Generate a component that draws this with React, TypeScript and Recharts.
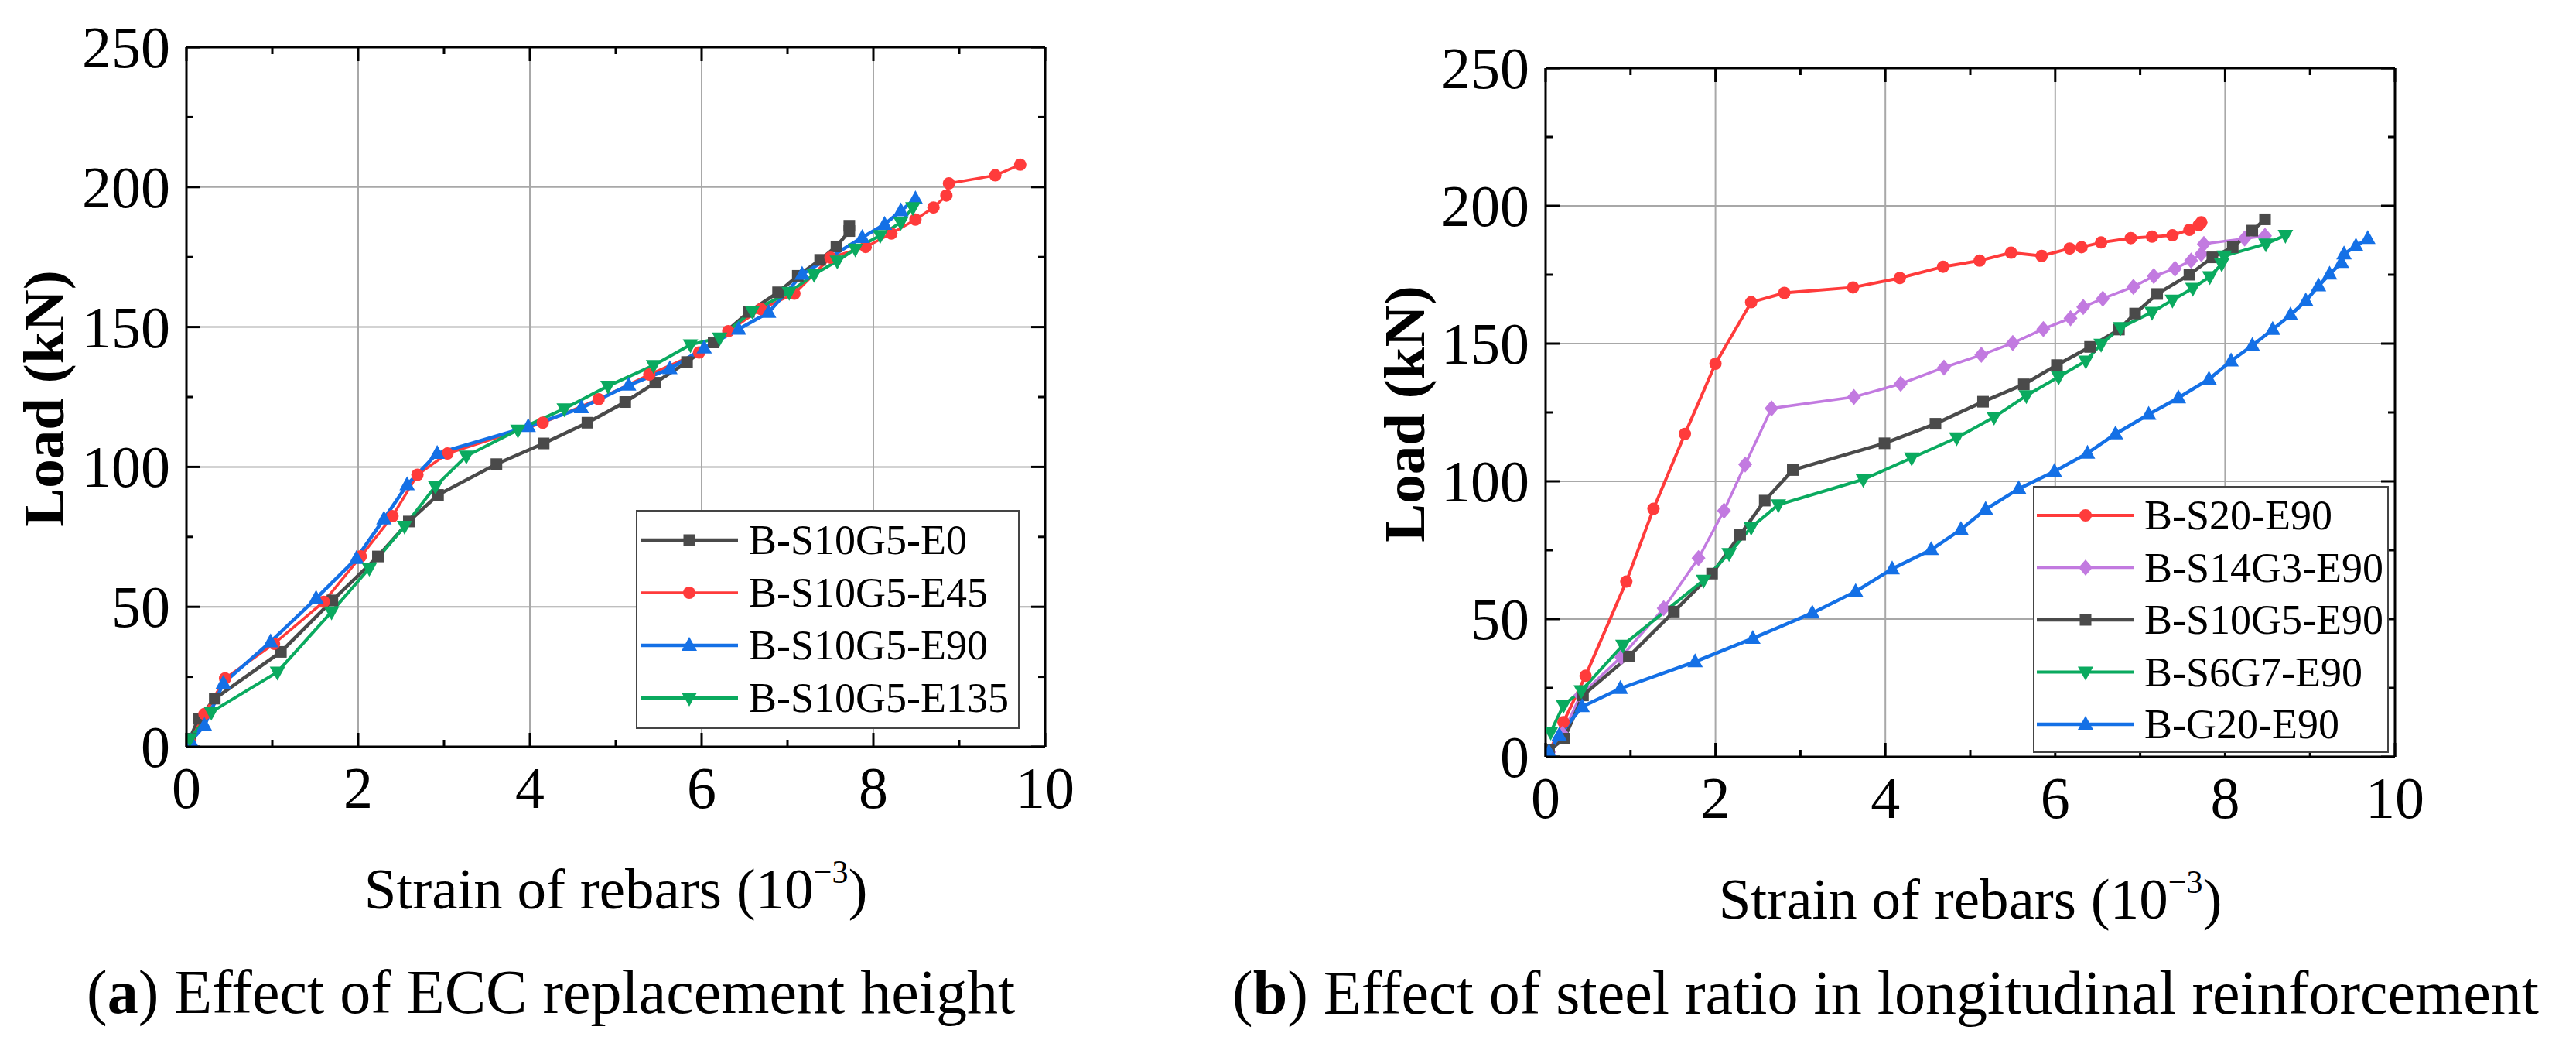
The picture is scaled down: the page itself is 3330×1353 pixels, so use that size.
import React from "react";
import { LineChart, Line, XAxis, YAxis, CartesianGrid, Legend } from "recharts";

const FONT = '"Liberation Serif", "Times New Roman", serif';

// axis ticks (minor + major)
const strainTicks = [0, 1, 2, 3, 4, 5, 6, 7, 8, 9, 10];
const loadTicks = [0, 25, 50, 75, 100, 125, 150, 175, 200, 225, 250];
const strainLabels = [0, 2, 4, 6, 8, 10];
const loadLabels = [0, 50, 100, 150, 200, 250];
const gridStrain = [2, 4, 6, 8];
const gridLoad = [50, 100, 150, 200];

// (a) Effect of ECC replacement height
const e0Strain = [0.04, 0.14, 0.33, 1.1, 1.7, 2.23, 2.59, 2.93, 3.61, 4.16, 4.67, 5.11, 5.46, 5.83, 6.14, 6.55, 6.89, 7.12, 7.38, 7.57, 7.72, 7.72];
const e0Load = [2.9, 10, 17.2, 33.9, 52.3, 68, 80.5, 90, 101, 108.4, 115.8, 123.2, 130.1, 137.5, 144.5, 155.4, 162.4, 168.3, 174, 178.8, 184.3, 186.2];

const e45Strain = [0.04, 0.21, 0.45, 1.02, 1.6, 2.03, 2.4, 2.69, 3.04, 4.15, 4.8, 5.39, 5.97, 6.31, 6.69, 7.08, 7.5, 7.91, 8.21, 8.49, 8.7, 8.85, 8.88, 9.42, 9.71];
const e45Load = [1.7, 11.7, 24.4, 36.8, 51.8, 68, 82.4, 97.2, 104.8, 115.8, 124.2, 133, 140.9, 148.5, 156.4, 161.9, 174.8, 178.6, 183.4, 188.4, 192.7, 197, 201.3, 204.2, 208];

const e90Strain = [0.05, 0.21, 0.43, 0.98, 1.51, 1.98, 2.3, 2.57, 2.92, 3.98, 4.6, 5.15, 5.63, 6.03, 6.43, 6.78, 7.17, 7.87, 8.13, 8.32, 8.49];
const e90Load = [2, 7.6, 22.7, 37.5, 53, 67.3, 81.4, 93.6, 104.8, 114.4, 121.1, 129.2, 135.1, 142.5, 149.2, 155.2, 168.8, 182, 186.7, 191.5, 195.8];

const e135Strain = [0.04, 0.29, 1.06, 1.69, 2.13, 2.54, 2.9, 3.26, 3.86, 4.4, 4.91, 5.44, 5.87, 6.21, 6.59, 7.02, 7.31, 7.58, 7.79, 8.08, 8.32, 8.46];
const e135Load = [2.9, 12.4, 26.7, 48.2, 63.8, 78.8, 93.1, 103.9, 113.2, 120.8, 128.9, 136.3, 143.7, 146.1, 155.7, 162.4, 168.8, 173.6, 177.9, 182.7, 187.4, 192.7];

// (b) Effect of steel ratio in longitudinal reinforcement
const s20Strain = [0.04, 0.21, 0.47, 0.95, 1.27, 1.64, 2.0, 2.42, 2.81, 3.62, 4.17, 4.68, 5.11, 5.48, 5.84, 6.17, 6.31, 6.54, 6.89, 7.14, 7.38, 7.58, 7.69, 7.72];
const s20Load = [1.7, 12.6, 29.4, 63.6, 90, 117.2, 142.7, 165, 168.4, 170.4, 173.8, 177.9, 180.1, 183, 181.8, 184.5, 185, 186.7, 188.3, 188.8, 189.3, 191.3, 193, 194];

const s14Strain = [0.04, 0.2, 0.41, 0.89, 1.39, 1.8, 2.1, 2.35, 2.66, 3.63, 4.18, 4.69, 5.13, 5.5, 5.86, 6.18, 6.33, 6.56, 6.92, 7.16, 7.41, 7.6, 7.72, 7.75, 8.23, 8.47];
const s14Load = [1.7, 8.3, 22.3, 36.2, 53.9, 72.1, 89.3, 106.1, 126.5, 130.6, 135.4, 141.3, 145.9, 150.2, 155.3, 159.2, 163.3, 166.3, 170.6, 174.5, 177.2, 180.1, 182.5, 186.2, 188.1, 189.1];

const s10Strain = [0.04, 0.22, 0.44, 0.98, 1.51, 1.96, 2.29, 2.58, 2.91, 3.99, 4.59, 5.15, 5.63, 6.02, 6.41, 6.75, 6.94, 7.2, 7.58, 7.85, 8.09, 8.32, 8.47];
const s10Load = [2.4, 6.6, 22.3, 36.4, 52.7, 66.5, 80.6, 93, 104.1, 113.8, 120.9, 128.9, 135.2, 142.2, 148.8, 155.1, 160.9, 168, 175, 181.3, 185, 191, 195.1];

const s6Strain = [0.06, 0.21, 0.42, 0.91, 1.86, 2.16, 2.42, 2.74, 3.74, 4.31, 4.84, 5.28, 5.66, 6.04, 6.36, 6.54, 6.77, 7.14, 7.38, 7.62, 7.82, 7.96, 7.99, 8.48, 8.71];
const s6Load = [9, 18.7, 24, 40.5, 64.1, 73.8, 83.3, 91.5, 100.7, 108.5, 115.8, 123.3, 131.1, 137.9, 143.7, 149.8, 155.8, 161.4, 165.8, 170.1, 174.3, 178.9, 181.8, 186.2, 189.3];

const g20Strain = [0.04, 0.16, 0.43, 0.88, 1.76, 2.44, 3.14, 3.65, 4.08, 4.54, 4.89, 5.18, 5.57, 5.99, 6.38, 6.71, 7.1, 7.45, 7.81, 8.07, 8.32, 8.56, 8.77, 8.95, 9.1, 9.23, 9.37, 9.4, 9.54, 9.68];
const g20Load = [1.7, 7.8, 18.2, 24.8, 34.5, 43, 52.2, 60, 68.2, 75.2, 82.5, 89.8, 97.3, 103.6, 110.2, 117.2, 124.3, 130.3, 137.1, 143.7, 149.3, 155.1, 160.4, 165.5, 170.9, 175.2, 179.4, 182.5, 185.4, 188.1];

type Marker = "square" | "circle" | "up" | "down" | "diamond";

interface Series {
  name: string;
  color: string;
  marker: Marker;
  width: number;
  strain: number[];
  load: number[];
}

const seriesA: Series[] = [
  { name: "B-S10G5-E0", color: "#4a4a4a", marker: "square", width: 4.5, strain: e0Strain, load: e0Load },
  { name: "B-S10G5-E45", color: "#ff3b3b", marker: "circle", width: 3.5, strain: e45Strain, load: e45Load },
  { name: "B-S10G5-E90", color: "#1470e6", marker: "up", width: 4.5, strain: e90Strain, load: e90Load },
  { name: "B-S10G5-E135", color: "#0aaa5f", marker: "down", width: 4, strain: e135Strain, load: e135Load },
];

const seriesB: Series[] = [
  { name: "B-S20-E90", color: "#ff3b3b", marker: "circle", width: 4, strain: s20Strain, load: s20Load },
  { name: "B-S14G3-E90", color: "#c27ae0", marker: "diamond", width: 3.5, strain: s14Strain, load: s14Load },
  { name: "B-S10G5-E90", color: "#4a4a4a", marker: "square", width: 4.5, strain: s10Strain, load: s10Load },
  { name: "B-S6G7-E90", color: "#0aaa5f", marker: "down", width: 4, strain: s6Strain, load: s6Load },
  { name: "B-G20-E90", color: "#1470e6", marker: "up", width: 4.5, strain: g20Strain, load: g20Load },
];

const toRows = (s: Series) => s.strain.map((x, i) => ({ strain: x, load: s.load[i] }));

function MarkerShape({ type, cx, cy, color }: { type: Marker; cx: number; cy: number; color: string }) {
  if (cx == null || cy == null) return null;
  switch (type) {
    case "square":
      return <rect x={cx - 7.5} y={cy - 7.5} width={15} height={15} fill={color} />;
    case "circle":
      return <circle cx={cx} cy={cy} r={8} fill={color} />;
    case "up":
      return <polygon points={`${cx},${cy - 11} ${cx - 10},${cy + 7} ${cx + 10},${cy + 7}`} fill={color} />;
    case "down":
      return <polygon points={`${cx},${cy + 11} ${cx - 10},${cy - 7} ${cx + 10},${cy - 7}`} fill={color} />;
    default:
      return <polygon points={`${cx},${cy - 10.5} ${cx + 9},${cy} ${cx},${cy + 10.5} ${cx - 9},${cy}`} fill={color} />;
  }
}

const tickText = { fill: "#000", fontFamily: FONT, fontSize: 76 };
const AXIS = { stroke: "#000", strokeWidth: 3 };
const MAJOR = 18;
const MINOR = 9;

const bottomTick = (p: any) => {
  const v = p.payload.value;
  const major = strainLabels.includes(v);
  return (
    <g>
      <line x1={p.x} x2={p.x} y1={p.y} y2={p.y - (major ? MAJOR : MINOR)} {...AXIS} />
      {major && (
        <text x={p.x} y={p.y + 79} textAnchor="middle" {...tickText}>
          {v}
        </text>
      )}
    </g>
  );
};

const topTick = (p: any) => {
  const major = strainLabels.includes(p.payload.value);
  return <line x1={p.x} x2={p.x} y1={p.y} y2={p.y + (major ? MAJOR : MINOR)} {...AXIS} />;
};

const leftTick = (p: any) => {
  const v = p.payload.value;
  const major = loadLabels.includes(v);
  return (
    <g>
      <line x1={p.x} x2={p.x + (major ? MAJOR : MINOR)} y1={p.y} y2={p.y} {...AXIS} />
      {major && (
        <text x={p.x - 21} y={p.y + 26} textAnchor="end" {...tickText}>
          {v}
        </text>
      )}
    </g>
  );
};

const rightTick = (p: any) => {
  const major = loadLabels.includes(p.payload.value);
  return <line x1={p.x} x2={p.x - (major ? MAJOR : MINOR)} y1={p.y} y2={p.y} {...AXIS} />;
};

interface Box {
  left: number;
  top: number;
  width: number;
  height: number;
  row0: number;
  rowGap: number;
  line0: number;
  line1: number;
  textX: number;
}

function LegendBox({ series, box }: { series: Series[]; box: Box }) {
  const mid = (box.line0 + box.line1) / 2;
  return (
    <svg width={box.width} height={box.height} style={{ display: "block", overflow: "visible" }}>
      <rect x={1} y={1} width={box.width - 2} height={box.height - 2} fill="#fff" stroke="#444" strokeWidth={2} />
      {series.map((s, i) => {
        const cy = box.row0 + i * box.rowGap;
        return (
          <g key={s.name}>
            <line x1={box.line0} x2={box.line1} y1={cy} y2={cy} stroke={s.color} strokeWidth={s.width} />
            <MarkerShape type={s.marker} cx={mid} cy={cy} color={s.color} />
            <text x={box.textX} y={cy + 18} fontFamily={FONT} fontSize={54} fill="#000">
              {s.name}
            </text>
          </g>
        );
      })}
    </svg>
  );
}

interface PanelProps {
  left: number;
  plot: { left: number; top: number; right: number; bottom: number };
  series: Series[];
  box: Box;
}

const W = 1665;
const H = 1353;

function Panel({ left, plot, series, box }: PanelProps) {
  const yW = 130;
  const xH = 100;
  const topH = 10;
  const rightW = 10;
  const margin = {
    top: plot.top - topH,
    left: plot.left - yW,
    right: W - plot.right - rightW,
    bottom: H - plot.bottom - xH,
  };
  return (
    <div style={{ position: "absolute", left, top: 0, width: W, height: H }}>
      <LineChart width={W} height={H} margin={margin}>
        <CartesianGrid
          stroke="#a8a8a8"
          strokeWidth={2}
          verticalValues={gridStrain}
          horizontalValues={gridLoad}
        />
        <XAxis
          dataKey="strain"
          type="number"
          domain={[0, 10]}
          ticks={strainTicks}
          interval={0}
          allowDataOverflow
          height={xH}
          tickSize={0}
          tickMargin={0}
          tickLine={false}
          axisLine={AXIS}
          tick={bottomTick}
        />
        <XAxis
          xAxisId="top"
          orientation="top"
          dataKey="strain"
          type="number"
          domain={[0, 10]}
          ticks={strainTicks}
          interval={0}
          allowDataOverflow
          height={topH}
          tickSize={0}
          tickMargin={0}
          tickLine={false}
          axisLine={AXIS}
          tick={topTick}
        />
        <YAxis
          type="number"
          domain={[0, 250]}
          ticks={loadTicks}
          interval={0}
          allowDataOverflow
          width={yW}
          tickSize={0}
          tickMargin={0}
          tickLine={false}
          axisLine={AXIS}
          tick={leftTick}
        />
        <YAxis
          yAxisId="right"
          orientation="right"
          type="number"
          domain={[0, 250]}
          ticks={loadTicks}
          interval={0}
          allowDataOverflow
          width={rightW}
          tickSize={0}
          tickMargin={0}
          tickLine={false}
          axisLine={AXIS}
          tick={rightTick}
        />
        {series.map((s) => (
          <Line
            key={s.name}
            name={s.name}
            data={toRows(s)}
            dataKey="load"
            type="linear"
            stroke={s.color}
            strokeWidth={s.width}
            isAnimationActive={false}
            activeDot={false}
            dot={(d: any) => <MarkerShape key={`${s.name}-${d.index}`} type={s.marker} cx={d.cx} cy={d.cy} color={s.color} />}
          />
        ))}
        <Legend
          layout="horizontal"
          verticalAlign="middle"
          align="center"
          wrapperStyle={{ left: box.left, top: box.top, width: box.width, height: box.height }}
          content={() => <LegendBox series={series} box={box} />}
        />
      </LineChart>
    </div>
  );
}

export default function App() {
  return (
    <div style={{ position: "absolute", left: 0, top: 0, width: 3330, height: 1353, background: "#fff" }}>
      <Panel
        left={0}
        plot={{ left: 241, top: 61, right: 1351, bottom: 965 }}
        series={seriesA}
        box={{ left: 822, top: 659, width: 496, height: 283, row0: 39, rowGap: 68, line0: 6, line1: 132, textX: 146 }}
      />
      <Panel
        left={W}
        plot={{ left: 333, top: 88, right: 1431, bottom: 978 }}
        series={seriesB}
        box={{ left: 963, top: 628, width: 460, height: 345, row0: 38, rowGap: 67.5, line0: 5, line1: 131, textX: 144 }}
      />
      <svg
        width={3330}
        height={1353}
        style={{ position: "absolute", left: 0, top: 0, pointerEvents: "none" }}
        fontFamily={FONT}
        fill="#000"
      >
        <text transform="translate(82,515) rotate(-90)" textAnchor="middle" fontSize={75} fontWeight="bold">
          Load (kN)
        </text>
        <text transform="translate(1841,535) rotate(-90)" textAnchor="middle" fontSize={75} fontWeight="bold">
          Load (kN)
        </text>
        <text x={796} y={1174} textAnchor="middle" fontSize={75}>
          Strain of rebars (10
          <tspan fontSize={42} dy={-33}>−3</tspan>
          <tspan dy={33}>)</tspan>
        </text>
        <text x={2547} y={1187} textAnchor="middle" fontSize={75}>
          Strain of rebars (10
          <tspan fontSize={42} dy={-33}>−3</tspan>
          <tspan dy={33}>)</tspan>
        </text>
        <text x={112} y={1309} fontSize={80}>
          (<tspan fontWeight="bold">a</tspan>) Effect of ECC replacement height
        </text>
        <text x={1593} y={1310} fontSize={80}>
          (<tspan fontWeight="bold">b</tspan>) Effect of steel ratio in longitudinal reinforcement
        </text>
      </svg>
    </div>
  );
}
